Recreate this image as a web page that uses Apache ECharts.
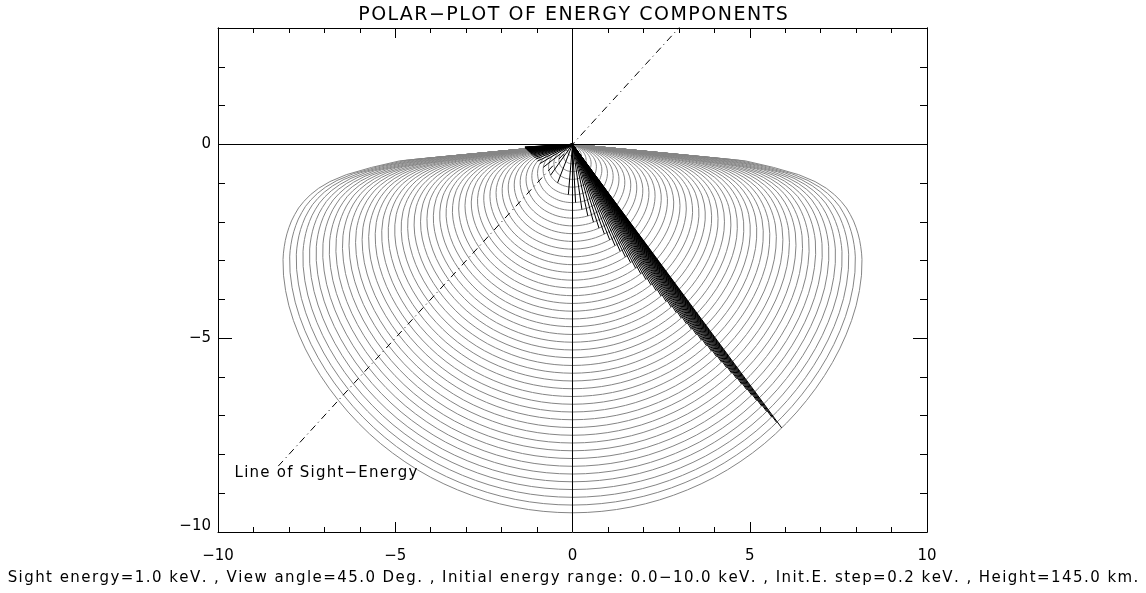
<!DOCTYPE html>
<html>
<head>
<meta charset="utf-8">
<title>Polar-plot of energy components</title>
<script src="https://cdn.jsdelivr.net/npm/echarts@6/dist/echarts.min.js"></script>
<style>
  html, body { margin: 0; padding: 0; background: #fff; }
  #chart { width: 1146px; height: 593px; }
</style>
</head>
<body>
<div id="chart"></div>
<script>
// Run parameters
const sightEnergy = 1.0;      // keV
const viewAngle = 45.0;       // deg
const outlineStartAngle = 5;  // outlines are traced from this elevation downward

// Initial energies, 0.2 keV steps (keV)
const initialEnergies = [
  0.2, 0.4, 0.6, 0.8, 1.0, 1.2, 1.4, 1.6, 1.8, 2.0,
  2.2, 2.4, 2.6, 2.8, 3.0, 3.2, 3.4, 3.6, 3.8, 4.0,
  4.2, 4.4, 4.6, 4.8, 5.0, 5.2, 5.4, 5.6, 5.8, 6.0,
  6.2, 6.4, 6.6, 6.8, 7.0, 7.2, 7.4, 7.6, 7.8, 8.0,
  8.2, 8.4, 8.6, 8.8, 9.0, 9.2, 9.4, 9.6, 9.8, 10.0
];

// Angle below the horizon (deg) and energy lost on the way down in that direction (keV)
const elevationAngles = [
  3, 4, 5, 6, 7, 8, 9, 10, 11, 12, 13, 14, 15, 16, 17, 18, 19, 20,
  22.5, 25, 27.5, 30, 32.5, 35, 37.5, 40, 42.5, 45, 47.5, 50, 52.5, 55,
  57.5, 60, 62.5, 65, 67.5, 70, 72.5, 75, 77.5, 80, 82.5, 85, 87.5, 90
];
const energyLoss = [
  8.50, 6.38, 5.11, 4.30, 3.57, 3.09, 2.75, 2.49, 2.28, 2.10, 1.96, 1.83, 1.72, 1.62, 1.53, 1.45, 1.376, 1.31,
  1.176, 1.07, 0.981, 0.91, 0.851, 0.80, 0.757, 0.72, 0.688, 0.66, 0.633, 0.61, 0.589, 0.571,
  0.557, 0.545, 0.534, 0.525, 0.520, 0.515, 0.510, 0.505, 0.502, 0.500, 0.498, 0.497, 0.496, 0.495
];

// Line of sight end points (keV, keV) and its caption position
const sightLine = [[-8.3, -8.3], [4.0, 4.0]];
const sightCaption = [-9.55, -8.49];

// Axis ticks
const xTicks = [-10, -5, 0, 5, 10];
const yMajorTicks = [-10, -5, 0];
const yMinorTicks = [-9, -8, -7, -6, -4, -3, -2, -1, 1, 2];

const deg = Math.PI / 180;

// Closed polar outline of remaining energy for one initial energy
function outline(e0, minAngle) {
  const left = [], right = [];
  elevationAngles.forEach((a, i) => {
    if (a < minAngle) return;
    const r = e0 - energyLoss[i];
    if (r <= 0) return;
    left.push([-r * Math.cos(a * deg), -r * Math.sin(a * deg)]);
    right.push([r * Math.cos(a * deg), -r * Math.sin(a * deg)]);
  });
  if (!left.length) return null;
  return [[0, 0]].concat(left, right.reverse(), [[0, 0]]);
}

// Points of an outline whose component along the line of sight equals -sightEnergy
const ux = Math.cos(viewAngle * deg), uy = Math.sin(viewAngle * deg);
function sightCrossings(pts) {
  const f = p => p[0] * ux + p[1] * uy + sightEnergy;
  const out = [];
  for (let i = 1; i < pts.length; i++) {
    const p = pts[i - 1], q = pts[i];
    const fp = f(p), fq = f(q);
    if ((fp > 0 && fq <= 0) || (fp <= 0 && fq > 0)) {
      const t = fp / (fp - fq);
      out.push([p[0] + t * (q[0] - p[0]), p[1] + t * (q[1] - p[1])]);
    }
  }
  return out;
}

const grayOutlines = [];
const componentRays = [];
initialEnergies.forEach(e0 => {
  const drawn = outline(e0, outlineStartAngle);
  if (drawn) grayOutlines.push({ coords: drawn });
  const full = outline(e0, 0);
  if (full) sightCrossings(full).forEach(p => componentRays.push({ coords: [[0, 0], p] }));
});

const minus = v => String(v).replace('-', '\u2212');
const FONT = 'DejaVu Sans';

// Wide-set lettering: every character is its own rich token with side padding
function wide(str) {
  return str.split('').map(ch => '{c|' + ch + '}').join('');
}
function wideStyle(size, pad) {
  return { c: { fontFamily: FONT, fontSize: size, color: '#000', padding: [0, pad, 0, pad] } };
}

const TITLE = 'POLAR\u2212PLOT OF ENERGY COMPONENTS';
const SUBTITLE = 'Sight energy=1.0 keV. , View angle=45.0 Deg. , Initial energy range: 0.0\u221210.0 keV. , Init.E. step=0.2 keV. , Height=145.0 km.';
const CAPTION = 'Line of Sight\u2212Energy';

const axisCommon = {
  type: 'value',
  splitLine: { show: false },
  axisLine: { show: true, onZero: false, lineStyle: { color: '#000', width: 1 } }
};

// Lowest y label sits a little above its tick
const yLabel = v => (v === yMajorTicks[0] ? '{low|' + minus(v) + '}' : minus(v));

const chart = echarts.init(document.getElementById('chart'), null, { renderer: 'canvas' });
chart.setOption({
  animation: false,
  backgroundColor: '#fff',
  title: [
    {
      text: wide(TITLE),
      left: 'center', top: 1,
      textStyle: { fontFamily: FONT, fontSize: 19, fontWeight: 'normal', color: '#000', rich: wideStyle(19, 0.75) }
    },
    {
      text: wide(SUBTITLE),
      left: 'center', top: 566,
      textStyle: { fontFamily: FONT, fontSize: 15, fontWeight: 'normal', color: '#000', rich: wideStyle(15, 0.72) }
    }
  ],
  grid: { left: 218, right: 219, top: 28, bottom: 61, show: false },
  xAxis: [
    Object.assign({}, axisCommon, {
      position: 'bottom', min: -10, max: 10, interval: 5,
      axisTick: { inside: true, length: 10, lineStyle: { color: '#000' } },
      minorTick: { show: true, splitNumber: 5, length: 5, lineStyle: { color: '#000' } },
      axisLabel: { margin: 17, fontFamily: FONT, fontSize: 15, color: '#000', formatter: minus, customValues: xTicks }
    }),
    Object.assign({}, axisCommon, {
      position: 'top', min: -10, max: 10, interval: 5,
      axisTick: { inside: true, length: 10, lineStyle: { color: '#000' } },
      minorTick: { show: true, splitNumber: 5, length: 5, lineStyle: { color: '#000' } },
      axisLabel: { show: false }
    })
  ],
  yAxis: [
    Object.assign({}, axisCommon, {
      position: 'left', min: -10, max: 3,
      axisTick: { inside: true, length: 14, customValues: yMajorTicks, lineStyle: { color: '#000' } },
      axisLabel: {
        margin: 7, fontFamily: FONT, fontSize: 15, color: '#000', formatter: yLabel, customValues: yMajorTicks,
        rich: { low: { fontFamily: FONT, fontSize: 15, color: '#000', padding: [0, 0, 11, 0] } }
      }
    }),
    Object.assign({}, axisCommon, {
      position: 'left', min: -10, max: 3,
      axisTick: { inside: true, length: 7, customValues: yMinorTicks, lineStyle: { color: '#000' } },
      axisLabel: { show: false }
    }),
    Object.assign({}, axisCommon, {
      position: 'right', min: -10, max: 3,
      axisTick: { inside: true, length: 14, customValues: yMajorTicks, lineStyle: { color: '#000' } },
      axisLabel: { show: false }
    }),
    Object.assign({}, axisCommon, {
      position: 'right', min: -10, max: 3,
      axisTick: { inside: true, length: 7, customValues: yMinorTicks, lineStyle: { color: '#000' } },
      axisLabel: { show: false }
    })
  ],
  series: [
    {
      name: 'outlines', type: 'lines', coordinateSystem: 'cartesian2d', polyline: true,
      xAxisIndex: 0, yAxisIndex: 0, silent: true, z: 2,
      lineStyle: { color: '#858585', width: 1, opacity: 1 },
      data: grayOutlines
    },
    {
      name: 'components', type: 'lines', coordinateSystem: 'cartesian2d', polyline: false,
      xAxisIndex: 0, yAxisIndex: 0, silent: true, z: 3,
      lineStyle: { color: '#000', width: 1, opacity: 1 },
      data: componentRays
    },
    {
      name: 'line of sight', type: 'line', xAxisIndex: 0, yAxisIndex: 0,
      showSymbol: false, silent: true, clip: true, z: 4,
      lineStyle: { color: '#000', width: 1, type: [7, 4, 1, 4] },
      data: sightLine,
      markLine: {
        silent: true, symbol: 'none', label: { show: false },
        lineStyle: { color: '#000', width: 1, type: 'solid' },
        data: [{ xAxis: 0 }, { yAxis: 0 }]
      }
    },
    {
      name: 'caption', type: 'scatter', xAxisIndex: 0, yAxisIndex: 0,
      symbolSize: 0, silent: true, z: 5,
      itemStyle: { opacity: 1 },
      data: [sightCaption],
      label: {
        show: true, position: 'right', distance: 0, opacity: 1,
        formatter: wide(CAPTION),
        fontFamily: FONT, fontSize: 15, color: '#000',
        rich: wideStyle(15, 0.62)
      }
    }
  ]
});
</script>
</body>
</html>
